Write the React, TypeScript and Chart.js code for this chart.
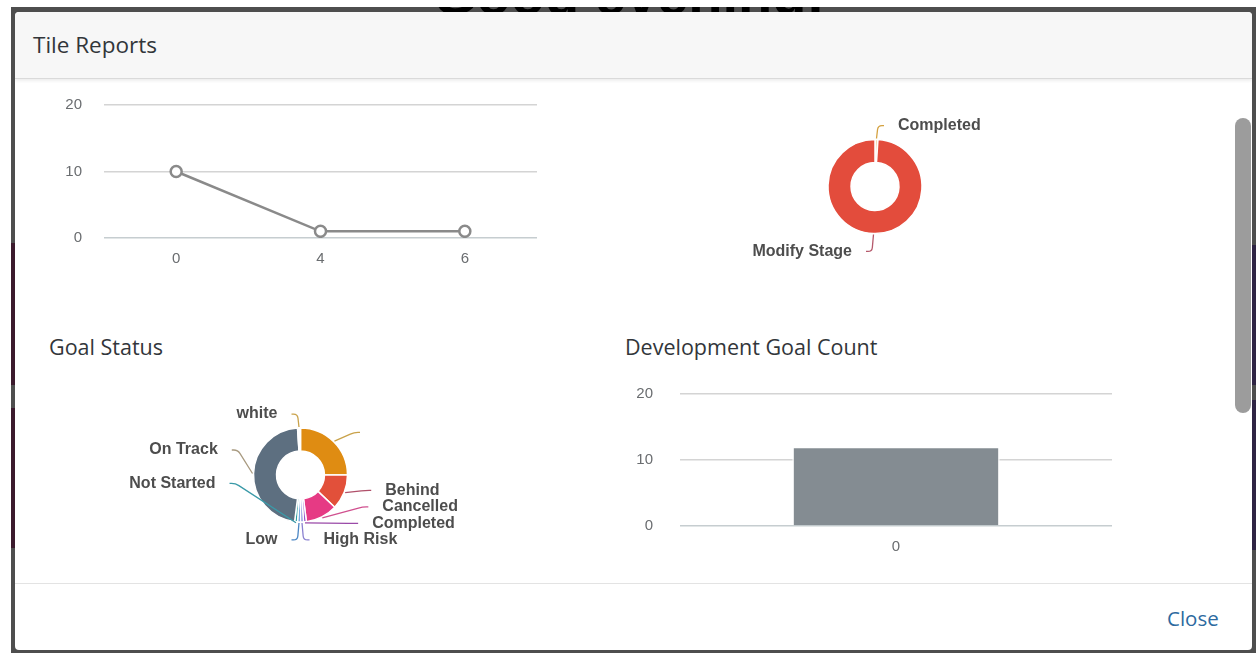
import React, { useEffect, useRef } from 'react';
import { Chart, registerables } from 'chart.js';

Chart.register(...registerables);
Chart.defaults.font.family = '"Liberation Sans", Arial, sans-serif';

// ---------- data ----------
const lineCategories = ['0', '4', '6'];
const lineValues = [10, 1, 1];

const stageLabels = ['Completed', 'Modify Stage'];
const stageValues = [1, 99];

const goalLabels = ['', 'Behind', 'Cancelled', 'Completed', 'High Risk', 'Low', 'Not Started', 'On Track', 'white'];
const goalValues = [25, 12, 11, 1, 1, 1, 1, 47, 1];

const devCategories = ['0'];
const devValues = [12];

const valueAxisTicks = [0, 10, 20];

// ---------- styles ----------
const stageColors = ['#f3d9b0', '#e34c3c'];
const stageLineColors = ['#d4a13f', '#b5596b'];
const goalColors = ['#df8c12', '#e2503a', '#e63a84', '#9a55c8', '#6f78d6', '#4a8fd6', '#2a9d9d', '#5d6f80', '#ffffff'];
const goalLineColors = ['#c9a24a', '#b0506a', '#d0508f', '#9a4aa8', '#8a80d0', '#4b86c4', '#3a9aa8', '#a89a80', '#c9a24a'];

const outLabelPlugin = {
  id: 'outLabels',
  afterDatasetsDraw(chart: any, _args: any, opts: any) {
    if (!opts || !opts.enabled) return;
    const meta = chart.getDatasetMeta(0);
    const ctx = chart.ctx as CanvasRenderingContext2D;
    const labels = chart.data.labels as string[];
    const R = opts.labelRadius, ys = opts.yShift, rx = opts.rx, ry = opts.ry;
    const items: any[] = [];
    meta.data.forEach((arc: any, i: number) => {
      const mid = (arc.startAngle + arc.endAngle) / 2;
      const c = Math.cos(mid), s = Math.sin(mid);
      const side = c >= 0 ? 1 : -1;
      items.push({
        i, cx: arc.x, cy: arc.y, side,
        p0x: arc.x + (arc.outerRadius + 1) * c,
        p0y: arc.y + (arc.outerRadius + 1) * s,
        ly: arc.y + R * s + ys,
      });
    });
    [1, -1].forEach((sd) => {
      const arr = items.filter((it) => it.side === sd).sort((a, b) => a.ly - b.ly);
      for (let k = arr.length - 2; k >= 0; k--) arr[k].ly = Math.min(arr[k].ly, arr[k + 1].ly - opts.gap);
      for (let k = 1; k < arr.length; k++) arr[k].ly = Math.max(arr[k].ly, arr[k - 1].ly + opts.gap);
    });
    const nudge = opts.nudge || {};
    ctx.save();
    ctx.font = opts.font;
    ctx.textBaseline = 'middle';
    items.forEach((it) => {
      const name = labels[it.i];
      if (nudge[name]) it.ly += nudge[name];
      const dy = Math.min(1, Math.abs((it.ly - ys - it.cy) / ry));
      const ex = Math.max(opts.minEx, rx * Math.cbrt(1 - dy * dy * dy));
      const tx = it.cx + it.side * ex;
      const p2x = tx - it.side * opts.lineGap;
      const cxp = p2x - it.side * opts.tail;
      const ddx = cxp - it.p0x, ddy = it.ly - it.p0y;
      const d = Math.hypot(ddx, ddy);
      const rr = Math.min(4, d / 2);
      ctx.beginPath();
      ctx.moveTo(it.p0x, it.p0y);
      if (d > 0) ctx.lineTo(cxp - (ddx / d) * rr, it.ly - (ddy / d) * rr);
      ctx.quadraticCurveTo(cxp, it.ly, cxp + it.side * Math.min(4, opts.tail), it.ly);
      ctx.lineTo(p2x, it.ly);
      ctx.strokeStyle = opts.lineColors[it.i];
      ctx.lineWidth = 1.3;
      ctx.stroke();
      if (name) {
        ctx.fillStyle = opts.color;
        ctx.textAlign = it.side > 0 ? 'left' : 'right';
        ctx.fillText(name, tx, it.ly);
      }
    });
    ctx.restore();
  },
};

const tickFont = { size: 15, family: '"Liberation Sans", Arial, sans-serif' };
const tickColor = '#6a6d70';

function valueAxis(width: number, padding: number) {
  return {
    min: valueAxisTicks[0],
    max: valueAxisTicks[valueAxisTicks.length - 1],
    ticks: { stepSize: valueAxisTicks[1] - valueAxisTicks[0], font: tickFont, color: tickColor, padding },
    grid: {
      drawTicks: false,
      lineWidth: 1.5,
      color: (c: any) => (c.tick && c.tick.value === 0 ? '#c6cdd0' : '#d4d4d4'),
    },
    border: { display: false },
    afterFit: (s: any) => { s.width = width; },
  };
}

function categoryAxis(height: number) {
  return {
    offset: true,
    grid: { display: false, drawTicks: false },
    border: { display: false },
    ticks: { font: tickFont, color: tickColor, padding: 12 },
    afterFit: (s: any) => { s.height = height; },
  };
}

const labelOpts = {
  enabled: true,
  labelRadius: 63,
  yShift: 2,
  rx: 85,
  ry: 63,
  minEx: 23,
  gap: 16.5,
  lineGap: 14,
  tail: 6,
  font: 'bold 16px "Liberation Sans", Arial, sans-serif',
  color: '#4d4d4d',
};

const makeLine = () => ({
  type: 'line',
  data: {
    labels: lineCategories,
    datasets: [{
      data: lineValues,
      borderColor: '#8a8a8a',
      borderWidth: 2.5,
      pointRadius: 5.5,
      pointBorderWidth: 2.5,
      pointBackgroundColor: '#ffffff',
      pointBorderColor: '#8a8a8a',
      tension: 0,
    }],
  },
  options: {
    responsive: false,
    animation: false,
    events: [],
    layout: { padding: { top: 0, right: 13, left: 0, bottom: 0 } },
    plugins: { legend: { display: false }, tooltip: { enabled: false } },
    scales: { x: categoryAxis(42), y: valueAxis(64, 22) },
  },
});

const makeBar = () => ({
  type: 'bar',
  data: {
    labels: devCategories,
    datasets: [{
      data: devValues,
      backgroundColor: '#848c92',
      borderColor: '#ffffff',
      borderWidth: 1.5,
      barPercentage: 0.8,
      categoryPercentage: 0.6,
    }],
  },
  options: {
    responsive: false,
    animation: false,
    events: [],
    layout: { padding: { top: 0, right: 18, left: 0, bottom: 0 } },
    plugins: { legend: { display: false }, tooltip: { enabled: false } },
    scales: { x: categoryAxis(49), y: valueAxis(80, 27) },
  },
});

const makeDonut = (labels: string[], values: number[], colors: string[], lineColors: string[], nudge: any) => () => ({
  type: 'doughnut',
  data: {
    labels,
    datasets: [{ data: values, backgroundColor: colors, borderColor: '#ffffff', borderWidth: 1.5 }],
  },
  options: {
    responsive: false,
    animation: false,
    events: [],
    radius: 47,
    cutout: '51%',
    layout: { padding: 0 },
    plugins: {
      legend: { display: false },
      tooltip: { enabled: false },
      outLabels: { ...labelOpts, lineColors, nudge },
    },
  },
  plugins: [outLabelPlugin],
});

function ChartCanvas({ make, left, top, width, height }: any) {
  const ref = useRef<HTMLCanvasElement>(null);
  useEffect(() => {
    const chart = new Chart(ref.current as HTMLCanvasElement, make() as any);
    return () => chart.destroy();
  }, []);
  return (
    <canvas
      ref={ref}
      width={width}
      height={height}
      style={{ position: 'absolute', left, top, width, height, display: 'block' }}
    />
  );
}

const uiFont = '"Open Sans", "Noto Sans", sans-serif';

export default function App() {
  useEffect(() => {
    document.body.style.margin = '0';
  }, []);
  const abs = (o: any) => ({ position: 'absolute' as const, ...o });
  return (
    <div style={{ position: 'fixed', left: 0, top: 0, width: 1258, height: 653, background: '#ffffff', overflow: 'hidden', fontFamily: uiFont }}>
      {/* dimmed page behind the dialog */}
      <div style={abs({ left: 11, top: 7, width: 1245, height: 646, background: '#4e4e4e' })} />
      <div style={abs({ left: 11, top: 243, width: 4, height: 142, background: '#3b1a2d' })} />
      <div style={abs({ left: 11, top: 408, width: 4, height: 140, background: '#3b1a2d' })} />
      <div style={abs({ left: 1252, top: 245, width: 4, height: 140, background: '#2f2444' })} />
      <div style={abs({ left: 1252, top: 400, width: 4, height: 150, background: '#2f2444' })} />
      <div style={abs({ left: 11, top: 7, width: 1245, height: 6, overflow: 'hidden' })}>
        <div style={abs({ left: 422, top: -40, fontSize: 56, lineHeight: '56px', fontWeight: 700, color: '#000', whiteSpace: 'nowrap', fontFamily: '"Liberation Sans", Arial, sans-serif' })}>Good evening!</div>
      </div>

      {/* dialog */}
      <div style={abs({ left: 15, top: 12, width: 1237, height: 638, background: '#ffffff', borderRadius: 4, overflow: 'hidden' })}>
        <div style={abs({ left: 0, top: 0, width: 1237, height: 66, background: '#f7f7f7', borderBottom: '1px solid #dadada', boxShadow: '0 2px 3px rgba(0,0,0,0.07)' })} />
        <div style={abs({ left: 0, top: 571, width: 1237, height: 1, background: '#e3e3e3' })} />
      </div>
      <div style={abs({ left: 33, top: 30, fontSize: 22.5, lineHeight: '30px', color: '#32363a', whiteSpace: 'nowrap' })}>Tile Reports</div>

      <div style={abs({ left: 1235, top: 118, width: 16, height: 295, background: '#9c9c9c', borderRadius: 8 })} />

      <div style={abs({ left: 49, top: 332, fontSize: 21.5, lineHeight: '30px', color: '#32363a', whiteSpace: 'nowrap' })}>Goal Status</div>
      <div style={abs({ left: 625, top: 332, fontSize: 21.5, lineHeight: '30px', color: '#32363a', whiteSpace: 'nowrap' })}>Development Goal Count</div>

      <div style={abs({ left: 1167, top: 603, fontSize: 20.5, lineHeight: '30px', color: '#2d6aa0', whiteSpace: 'nowrap' })}>Close</div>

      <ChartCanvas make={makeLine} left={40} top={74} width={510} height={206} />
      <ChartCanvas make={makeDonut(stageLabels, stageValues, stageColors, stageLineColors, {})} left={700} top={106} width={350} height={161} />
      <ChartCanvas make={makeDonut(goalLabels, goalValues, goalColors, goalLineColors, { 'Not Started': -40, 'On Track': -25 })} left={100} top={395} width={401} height={160} />
      <ChartCanvas make={makeBar} left={600} top={358} width={530} height={217} />
    </div>
  );
}
